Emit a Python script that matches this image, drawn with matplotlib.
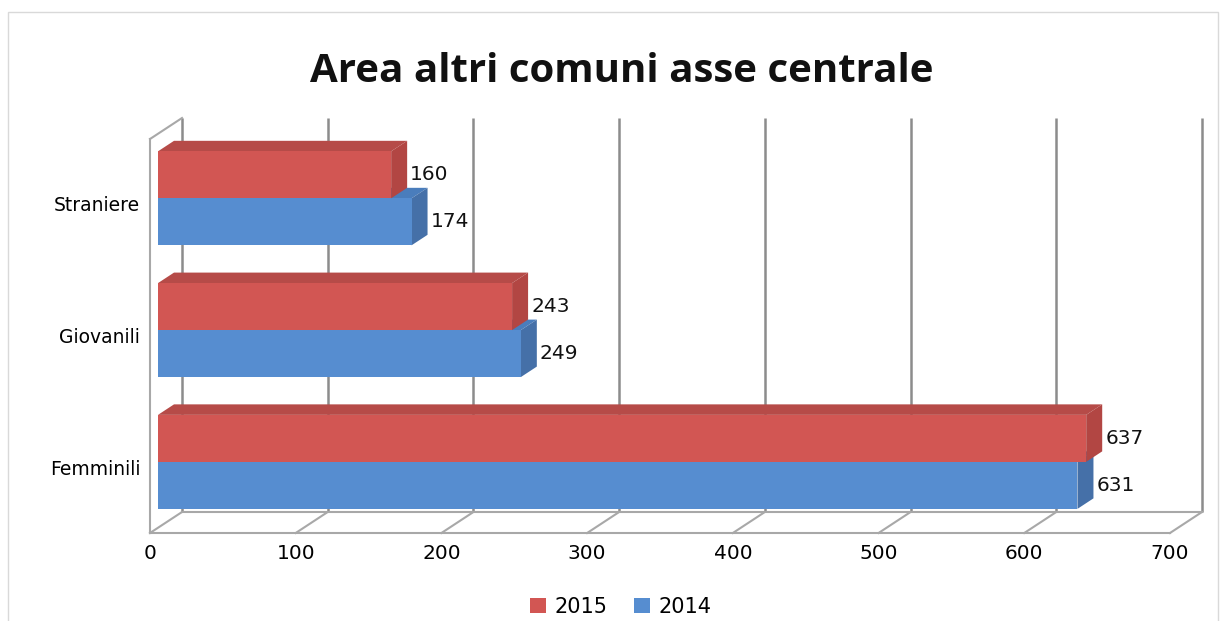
import matplotlib
matplotlib.use("Agg")
import matplotlib.pyplot as plt
from matplotlib.patches import Polygon, Rectangle, Patch

categories = ["Femminili", "Giovanili", "Straniere"]
values_2015 = [637, 243, 160]
values_2014 = [631, 249, 174]
xticks = [0, 100, 200, 300, 400, 500, 600, 700]
title = "Area altri comuni asse centrale"

W, H = 1224, 621
plt.rcParams['font.family'] = ['DejaVu Sans']
fig = plt.figure(figsize=(W / 100, H / 100), dpi=100)

ax = fig.add_axes([150 / W, 88 / H, 1020 / W, 394 / H])
XMAX = 700
YMIN, YMAX = -0.5, 2.49
ax.set_xlim(0, XMAX)
ax.set_ylim(YMIN, YMAX)
for s in ax.spines.values():
    s.set_visible(False)

sx = 1020 / XMAX
sy = 394 / (YMAX - YMIN)
Dx, Dy = 32 / sx, 21 / sy  # depth vector in data units
bar_h = 47 / sy

wall_c = "#8c8c8c"
floor_c = "#a8a8a8"

for t in xticks:
    ax.plot([t + Dx, t + Dx], [YMIN + Dy, YMAX + Dy], color=wall_c, lw=1.8,
            clip_on=False, zorder=1, solid_capstyle="butt")
    ax.plot([t, t + Dx], [YMIN, YMIN + Dy], color=floor_c, lw=1.5,
            clip_on=False, zorder=1)
ax.plot([0, XMAX], [YMIN, YMIN], color=floor_c, lw=1.5, clip_on=False, zorder=1)
ax.plot([Dx, XMAX + Dx], [YMIN + Dy, YMIN + Dy], color=floor_c, lw=1.5,
        clip_on=False, zorder=1)
ax.plot([0, 0], [YMIN, YMAX], color=floor_c, lw=1.5, clip_on=False, zorder=1)
ax.plot([0, Dx], [YMAX, YMAX + Dy], color=floor_c, lw=1.5, clip_on=False, zorder=1)


def bar3d(v, y0, front, top, side, z):
    t0, t1 = 0.25, 0.75
    x0 = t0 * Dx
    yb = y0 + t0 * Dy
    yt = yb + bar_h
    xf = v + x0
    ddx, ddy = (t1 - t0) * Dx, (t1 - t0) * Dy
    ax.add_patch(Polygon([(x0, yt), (xf, yt), (xf + ddx, yt + ddy), (x0 + ddx, yt + ddy)],
                         closed=True, facecolor=top, edgecolor="none", zorder=z, clip_on=False))
    ax.add_patch(Polygon([(xf, yb), (xf + ddx, yb + ddy), (xf + ddx, yt + ddy), (xf, yt)],
                         closed=True, facecolor=side, edgecolor="none", zorder=z, clip_on=False))
    ax.add_patch(Rectangle((x0, yb), v, bar_h, facecolor=front, edgecolor="none",
                           zorder=z, clip_on=False))
    ax.text(xf + ddx + 3 / sx, yb + bar_h / 2, f"{v}", ha="left", va="center",
            fontsize=14.5, color="#111111", zorder=z + 1)


red_front, red_top, red_side = "#d25653", "#b64b48", "#b24643"
blue_front, blue_top, blue_side = "#568dd0", "#4a7dbc", "#4570a8"

for i, (v15, v14) in enumerate(zip(values_2015, values_2014)):
    bar3d(v14, i - bar_h, blue_front, blue_top, blue_side, 3 + 2 * (2 - i))
    bar3d(v15, i, red_front, red_top, red_side, 4 + 2 * (2 - i))

ax.set_yticks(range(len(categories)))
ax.set_yticklabels(categories, fontsize=13.5)
ax.set_xticks(xticks)
ax.set_xticklabels([str(t) for t in xticks], fontsize=14.5)
ax.tick_params(axis="both", length=0)
ax.tick_params(axis="y", pad=7)
ax.tick_params(axis="x", pad=8)

fig.text(0.508, 1 - 72 / H, title, ha="center", va="center", fontsize=29,
         fontweight="bold", color="#111111", family=["Open Sans", "DejaVu Sans"])

handles = [Patch(facecolor=red_front, edgecolor="none", label="2015"),
           Patch(facecolor=blue_front, edgecolor="none", label="2014")]
fig.legend(handles=handles, loc="center", bbox_to_anchor=(0.507, 14 / H), ncol=2,
           frameon=False, fontsize=15, handlelength=0.75, handleheight=0.75,
           handletextpad=0.4, columnspacing=1.3, borderpad=0)

fig.patches.append(Rectangle((8 / W, -0.05), 1210 / W, 1.05 - 12 / H, transform=fig.transFigure,
                             facecolor="none", edgecolor="#d9d9d9", lw=1.0))

fig.savefig("out.png", dpi=100, facecolor="white")
